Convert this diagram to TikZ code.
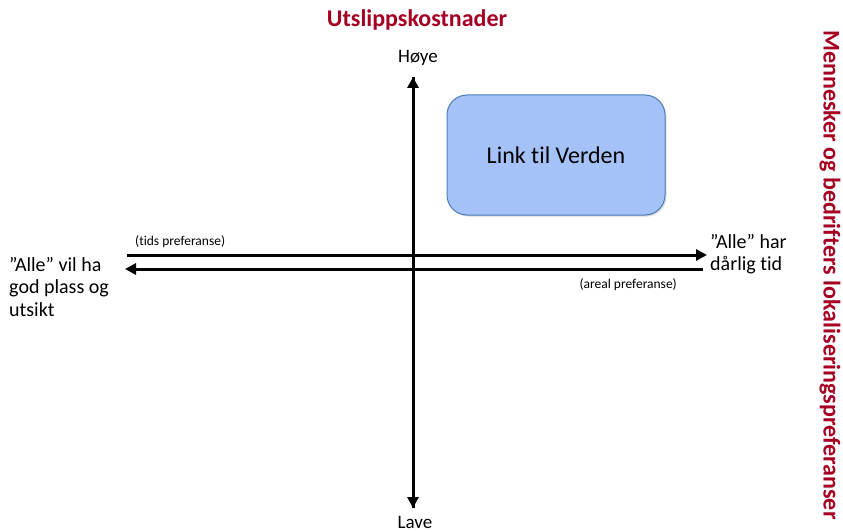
\documentclass[tikz,border=0pt]{standalone}
\usepackage{fontspec}
\setmainfont{Carlito}[Ligatures=NoCommon]
\usetikzlibrary{arrows.meta,shadows}
\definecolor{dred}{RGB}{165,0,33}
\definecolor{boxfill}{RGB}{164,194,248}
\definecolor{boxdraw}{RGB}{74,126,187}
\begin{document}
\begin{tikzpicture}[x=1pt,y=-1pt,
  ax/.style={line width=3pt,-{Triangle[length=11pt,width=11pt]}},
  lbl/.style={font=\fontsize{20}{22.5}\selectfont, inner sep=0pt, align=left},
  small/.style={font=\fontsize{13.5}{16}\selectfont, inner sep=0pt},
  ttl/.style={font=\fontsize{24}{28}\selectfont\bfseries, text=dred, inner sep=0pt}]
\useasboundingbox (0,0) rectangle (843,532);
\node[ttl] (title) at (417,20) {Utslippskostnader};
\node[ttl, rotate=-90] (side) at (830,275) {Mennesker og bedrifters lokaliseringspreferanser};
\node[font=\fontsize{19}{22}\selectfont, inner sep=0pt] (hoye) at (418,58) {Høye};
\node[font=\fontsize{19}{22}\selectfont, inner sep=0pt] (lave) at (415,522) {Lave};
\coordinate (vtop) at (413,77);
\coordinate (vbot) at (413,508);
\draw[ax] (vbot) -- (vtop);
\draw[ax] (vtop) -- (vbot);
\coordinate (ul) at (127,255);
\coordinate (ur) at (707,255);
\coordinate (ll) at (125,269);
\coordinate (lr) at (703,269);
\draw[ax] (ul) -- (ur);
\draw[ax] (lr) -- (ll);
\node[small, anchor=west] (tids) at (135,242) {(tids preferanse)};
\node[small, anchor=east] (areal) at (677,285) {(areal preferanse)};
\node[lbl, anchor=north west] (right) at (710,234) {”Alle” har\\dårlig tid};
\node[lbl, anchor=north west] (left) at (9,257) {”Alle” vil ha\\god plass og\\utsikt};
\node[draw=boxdraw, fill=boxfill, line width=1pt, rounded corners=20pt,
  minimum width=218pt, minimum height=120pt,
  drop shadow={shadow xshift=1.5pt, shadow yshift=-1.5pt, opacity=0.3},
  font=\fontsize{24}{28}\selectfont] (box) at (556,155) {Link til Verden};
\end{tikzpicture}
\end{document}
